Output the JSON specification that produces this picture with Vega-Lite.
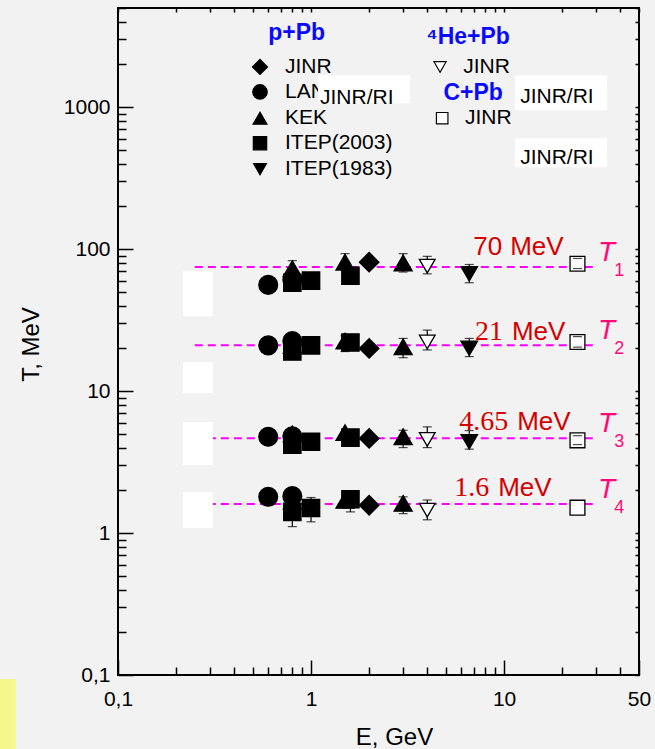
{
 "$schema": "https://vega.github.io/schema/vega-lite/v6.json",
 "width": 521,
 "height": 667,
 "autosize": {"type": "none"},
 "padding": {"left": 118, "top": 8, "right": 16, "bottom": 74},
 "background": "#f2f2f2",
 "config": {"view": {"stroke": "black", "strokeWidth": 2, "fill": null}, "font": "Liberation Sans"},
 "datasets": {
  "pts": [
   {"src":"LANL","E":0.6,"T":56,"lo":50,"hi":62},
   {"src":"KEK","E":0.8,"T":73,"lo":64,"hi":83},
   {"src":"LANL","E":0.8,"T":61},
   {"src":"ITEP2003","E":0.8,"T":58,"lo":53,"hi":63},
   {"src":"ITEP2003","E":1.0,"T":60,"lo":54,"hi":67},
   {"src":"KEK","E":1.5,"T":81,"lo":72,"hi":93},
   {"src":"ITEP2003","E":1.6,"T":65,"lo":60,"hi":70},
   {"src":"JINR p","E":2.0,"T":81},
   {"src":"KEK","E":3.0,"T":80,"lo":69,"hi":93},
   {"src":"JINR He","E":4.0,"T":76,"lo":67,"hi":89},
   {"src":"ITEP1983","E":6.6,"T":67,"lo":58,"hi":78},
   {"src":"JINR C","E":24,"T":79,"lo":73,"hi":86},
   {"src":"LANL","E":0.6,"T":21},
   {"src":"KEK","E":0.8,"T":21,"lo":19,"hi":23},
   {"src":"LANL","E":0.8,"T":22.5},
   {"src":"ITEP2003","E":0.8,"T":19,"lo":17.5,"hi":20.5},
   {"src":"ITEP2003","E":1.0,"T":21},
   {"src":"KEK","E":1.5,"T":22.5,"lo":19,"hi":24.5},
   {"src":"ITEP2003","E":1.6,"T":22},
   {"src":"JINR p","E":2.0,"T":20},
   {"src":"KEK","E":3.0,"T":20.5,"lo":17.2,"hi":23.5},
   {"src":"JINR He","E":4.0,"T":22.2,"lo":19.5,"hi":26.9},
   {"src":"ITEP1983","E":6.6,"T":20,"lo":17.5,"hi":23.5},
   {"src":"JINR C","E":24,"T":22.2,"lo":20.4,"hi":24.2},
   {"src":"LANL","E":0.6,"T":4.77},
   {"src":"KEK","E":0.8,"T":5.0,"lo":4.5,"hi":5.5},
   {"src":"LANL","E":0.8,"T":4.8},
   {"src":"ITEP2003","E":0.8,"T":4.2,"lo":3.9,"hi":4.6},
   {"src":"ITEP2003","E":1.0,"T":4.4},
   {"src":"KEK","E":1.5,"T":5.1},
   {"src":"ITEP2003","E":1.6,"T":4.7},
   {"src":"JINR p","E":2.0,"T":4.64},
   {"src":"KEK","E":3.0,"T":4.77,"lo":4.0,"hi":5.3},
   {"src":"JINR He","E":4.0,"T":4.57,"lo":4.0,"hi":5.6},
   {"src":"ITEP1983","E":6.6,"T":4.4,"lo":3.9,"hi":5.27},
   {"src":"JINR C","E":24,"T":4.5,"lo":4.2,"hi":4.85},
   {"src":"LANL","E":0.6,"T":1.8},
   {"src":"KEK","E":0.8,"T":1.68},
   {"src":"LANL","E":0.8,"T":1.82},
   {"src":"ITEP2003","E":0.8,"T":1.41,"lo":1.11,"hi":1.7},
   {"src":"ITEP2003","E":1.0,"T":1.5,"lo":1.2,"hi":1.78},
   {"src":"KEK","E":1.5,"T":1.7},
   {"src":"ITEP2003","E":1.6,"T":1.73,"lo":1.41,"hi":1.98},
   {"src":"JINR p","E":2.0,"T":1.57},
   {"src":"KEK","E":3.0,"T":1.62,"lo":1.37,"hi":1.8},
   {"src":"JINR He","E":4.0,"T":1.45,"lo":1.24,"hi":1.71},
   {"src":"JINR C","E":24,"T":1.51}
  ],
  "lines": [
   {"T":75,"E1":0.25,"E2":29},
   {"T":21,"E1":0.25,"E2":29},
   {"T":4.65,"E1":0.25,"E2":29},
   {"T":1.6,"E1":0.25,"E2":29}
  ],
  "boxes": [
   {"x1":0.217,"x2":0.3105,"y1":69.9,"y2":33.7},
   {"x1":0.217,"x2":0.3105,"y1":16.0,"y2":9.68},
   {"x1":0.217,"x2":0.3105,"y1":6.06,"y2":3.01},
   {"x1":0.217,"x2":0.3105,"y1":1.945,"y2":1.084},
   {"x1":1.087,"x2":3.26,"y1":1680,"y2":1067},
   {"x1":11.41,"x2":34.2,"y1":1680,"y2":952},
   {"x1":11.41,"x2":34.2,"y1":605,"y2":378}
  ],
  "yellow": [{"x1":0.02,"x2":0.0296,"y1":0.0937,"y2":0.02}],
  "leg": [
   {"src":"JINR p","label":"JINR","E":0.544,"T":1922,"Et":0.733},
   {"src":"LANL","label":"LANL","E":0.544,"T":1281,"Et":0.733},
   {"src":"KEK","label":"KEK","E":0.544,"T":836.5,"Et":0.733},
   {"src":"ITEP2003","label":"ITEP(2003)","E":0.544,"T":557.8,"Et":0.733},
   {"src":"ITEP1983","label":"ITEP(1983)","E":0.544,"T":365.9,"Et":0.733},
   {"src":"JINR He","label":"JINR","E":4.66,"T":1922,"Et":6.14},
   {"src":"JINR C","label":"JINR","E":4.78,"T":836.5,"Et":6.27}
  ],
  "heads": [
   {"h":"p+Pb","E":0.843,"T":3347},
   {"h":"⁴He+Pb","E":6.51,"T":3112},
   {"h":"C+Pb","E":6.92,"T":1255}
  ],
  "ri": [
   {"t":"JINR/RI","E":1.113,"T":1157},
   {"t":"JINR/RI","E":12.12,"T":1176},
   {"t":"JINR/RI","E":12.12,"T":437}
  ],
  "mev": [
   {"num":"70","E":10.75,"T":90.7},
   {"num":"21","E":10.98,"T":22.87},
   {"num":"4.65","E":11.69,"T":5.31},
   {"num":"1.6","E":9.32,"T":1.822}
  ],
  "tl": [
   {"s":"1","T":75},
   {"s":"2","T":21},
   {"s":"3","T":4.65},
   {"s":"4","T":1.6}
  ]
 },
 "layer": [
  {
   "data": {"name": "yellow"},
   "mark": {"type": "rect", "fill": "#f6f68e"},
   "encoding": {
    "x": {"field": "x1", "type": "quantitative", "scale": {"type": "log", "domain": [0.1, 50], "nice": false}, "axis": null},
    "x2": {"field": "x2"},
    "y": {"field": "y1", "type": "quantitative", "scale": {"type": "log", "domain": [0.1, 5000], "nice": false}, "axis": null},
    "y2": {"field": "y2"}
   }
  },
  {
   "data": {"name": "lines"},
   "mark": {"type": "rule", "color": "#ff00ff", "strokeWidth": 2, "strokeDash": [8, 5]},
   "encoding": {
    "x": {"field": "E1", "type": "quantitative", "scale": {"type": "log", "domain": [0.1, 50], "nice": false},
     "axis": {"orient": "bottom", "domain": false, "grid": false,
      "values": [0.1,0.2,0.3,0.4,0.5,0.6,0.7,0.8,0.9,1,2,3,4,5,6,7,8,9,10,20,30,40,50],
      "tickColor": "black", "tickWidth": 1.5,
      "tickSize": {"condition": {"test": "datum.value == 0.1 || datum.value == 1 || datum.value == 10 || datum.value == 50", "value": -15}, "value": -8},
      "labelExpr": "datum.value == 0.1 ? '0,1' : (datum.value == 1 || datum.value == 10 || datum.value == 50) ? format(datum.value, 'd') : ''",
      "labelFontSize": 21, "labelColor": "black", "labelPadding": 28, "labelFlush": false, "labelOverlap": false, "labelBound": false,
      "title": "E, GeV", "titleFontSize": 24, "titleFontWeight": "normal", "titleColor": "black",
      "titleX": 276, "titleY": 69, "titleBaseline": "alphabetic", "titleAlign": "center"}},
    "x2": {"field": "E2"},
    "y": {"field": "T", "type": "quantitative", "scale": {"type": "log", "domain": [0.1, 5000], "nice": false},
     "axis": {"orient": "left", "domain": false, "grid": false,
      "values": [0.1,0.2,0.3,0.4,0.5,0.6,0.7,0.8,0.9,1,2,3,4,5,6,7,8,9,10,20,30,40,50,60,70,80,90,100,200,300,400,500,600,700,800,900,1000,2000,3000,4000,5000],
      "tickColor": "black", "tickWidth": 1.5,
      "tickSize": {"condition": {"test": "datum.value == 0.1 || datum.value == 1 || datum.value == 10 || datum.value == 100 || datum.value == 1000", "value": -15}, "value": -8},
      "labelExpr": "datum.value == 0.1 ? '0,1' : (datum.value == 1 || datum.value == 10 || datum.value == 100 || datum.value == 1000) ? format(datum.value, 'd') : ''",
      "labelFontSize": 21, "labelColor": "black", "labelPadding": 23, "labelFlush": false, "labelOverlap": false, "labelBound": false,
      "title": "T, MeV", "titleFontSize": 24, "titleFontWeight": "normal", "titleColor": "black",
      "titleX": -80, "titleY": 336, "titleBaseline": "alphabetic", "titleAlign": "center", "titleAngle": -90}}
   }
  },
  {
   "data": {"name": "pts"},
   "transform": [{"filter": "isValid(datum.lo) && datum.src != 'JINR C'"}],
   "mark": {"type": "rule", "color": "black", "strokeWidth": 1.2},
   "encoding": {
    "x": {"field": "E", "type": "quantitative", "scale": {"type": "log", "domain": [0.1, 50], "nice": false}, "axis": null},
    "y": {"field": "lo", "type": "quantitative", "scale": {"type": "log", "domain": [0.1, 5000], "nice": false}, "axis": null},
    "y2": {"field": "hi"}
   }
  },
  {
   "data": {"name": "pts"},
   "transform": [{"filter": "isValid(datum.lo) && datum.src != 'JINR C'"}],
   "mark": {"type": "tick", "orient": "horizontal", "color": "black", "size": 9, "thickness": 1.2},
   "encoding": {
    "x": {"field": "E", "type": "quantitative", "scale": {"type": "log", "domain": [0.1, 50], "nice": false}, "axis": null},
    "y": {"field": "lo", "type": "quantitative", "scale": {"type": "log", "domain": [0.1, 5000], "nice": false}, "axis": null}
   }
  },
  {
   "data": {"name": "pts"},
   "transform": [{"filter": "isValid(datum.lo) && datum.src != 'JINR C'"}],
   "mark": {"type": "tick", "orient": "horizontal", "color": "black", "size": 9, "thickness": 1.2},
   "encoding": {
    "x": {"field": "E", "type": "quantitative", "scale": {"type": "log", "domain": [0.1, 50], "nice": false}, "axis": null},
    "y": {"field": "hi", "type": "quantitative", "scale": {"type": "log", "domain": [0.1, 5000], "nice": false}, "axis": null}
   }
  },
  {
   "data": {"name": "pts"},
   "mark": {"type": "point", "filled": true, "stroke": "black", "strokeWidth": 1.3, "opacity": 1},
   "encoding": {
    "x": {"field": "E", "type": "quantitative", "scale": {"type": "log", "domain": [0.1, 50], "nice": false},
     "axis": {"orient": "top", "domain": false, "grid": false, "labels": false, "title": null,
      "values": [0.1,0.2,0.3,0.4,0.5,0.6,0.7,0.8,0.9,1,2,3,4,5,6,7,8,9,10,20,30,40,50],
      "tickColor": "black", "tickWidth": 1.5, "tickSize": -4}},
    "y": {"field": "T", "type": "quantitative", "scale": {"type": "log", "domain": [0.1, 5000], "nice": false},
     "axis": {"orient": "right", "domain": false, "grid": false, "labels": false, "title": null,
      "values": [0.1,0.2,0.3,0.4,0.5,0.6,0.7,0.8,0.9,1,2,3,4,5,6,7,8,9,10,20,30,40,50,60,70,80,90,100,200,300,400,500,600,700,800,900,1000,2000,3000,4000,5000],
      "tickColor": "black", "tickWidth": 1.5, "tickSize": -4}},
    "shape": {"field": "src", "type": "nominal", "legend": null,
     "scale": {"domain": ["JINR p","LANL","KEK","ITEP2003","ITEP1983","JINR He","JINR C"], "range": ["diamond","circle","triangle-up","square","triangle-down","triangle-down","square"]}},
    "fill": {"field": "src", "type": "nominal", "legend": null,
     "scale": {"domain": ["JINR p","LANL","KEK","ITEP2003","ITEP1983","JINR He","JINR C"], "range": ["black","black","black","black","black","white","white"]}},
    "size": {"field": "src", "type": "nominal", "legend": null,
     "scale": {"domain": ["JINR p","LANL","KEK","ITEP2003","ITEP1983","JINR He","JINR C"], "range": [380,220,380,180,360,310,160]}}
   }
  },
  {
   "data": {"name": "pts"},
   "transform": [{"filter": "isValid(datum.lo) && datum.src == 'JINR C'"}],
   "mark": {"type": "tick", "orient": "horizontal", "color": "black", "size": 9, "thickness": 1.2},
   "encoding": {
    "x": {"field": "E", "type": "quantitative", "scale": {"type": "log", "domain": [0.1, 50], "nice": false}, "axis": null},
    "y": {"field": "lo", "type": "quantitative", "scale": {"type": "log", "domain": [0.1, 5000], "nice": false}, "axis": null}
   }
  },
  {
   "data": {"name": "pts"},
   "transform": [{"filter": "isValid(datum.lo) && datum.src == 'JINR C'"}],
   "mark": {"type": "tick", "orient": "horizontal", "color": "black", "size": 9, "thickness": 1.2},
   "encoding": {
    "x": {"field": "E", "type": "quantitative", "scale": {"type": "log", "domain": [0.1, 50], "nice": false}, "axis": null},
    "y": {"field": "hi", "type": "quantitative", "scale": {"type": "log", "domain": [0.1, 5000], "nice": false}, "axis": null}
   }
  },
  {
   "data": {"name": "leg"},
   "mark": {"type": "point", "filled": true, "stroke": "black", "strokeWidth": 1.2, "opacity": 1},
   "encoding": {
    "x": {"field": "E", "type": "quantitative", "scale": {"type": "log", "domain": [0.1, 50], "nice": false}, "axis": null},
    "y": {"field": "T", "type": "quantitative", "scale": {"type": "log", "domain": [0.1, 5000], "nice": false}, "axis": null},
    "shape": {"field": "src", "type": "nominal", "legend": null},
    "fill": {"field": "src", "type": "nominal", "legend": null},
    "size": {"field": "src", "type": "nominal", "legend": null,
     "scale": {"domain": ["JINR p","LANL","KEK","ITEP2003","ITEP1983","JINR He","JINR C"], "range": [225,132,256,121,256,169,121]}}
   }
  },
  {
   "data": {"name": "leg"},
   "mark": {"type": "text", "align": "left", "baseline": "middle", "fontSize": 21, "color": "black", "font": "Liberation Sans"},
   "encoding": {
    "x": {"field": "Et", "type": "quantitative", "scale": {"type": "log", "domain": [0.1, 50], "nice": false}, "axis": null},
    "y": {"field": "T", "type": "quantitative", "scale": {"type": "log", "domain": [0.1, 5000], "nice": false}, "axis": null},
    "text": {"field": "label"}
   }
  },
  {
   "data": {"name": "heads"},
   "mark": {"type": "text", "align": "center", "baseline": "middle", "fontSize": 23, "fontWeight": "bold", "color": "#0a0aff", "font": "Liberation Sans"},
   "encoding": {
    "x": {"field": "E", "type": "quantitative", "scale": {"type": "log", "domain": [0.1, 50], "nice": false}, "axis": null},
    "y": {"field": "T", "type": "quantitative", "scale": {"type": "log", "domain": [0.1, 5000], "nice": false}, "axis": null},
    "text": {"field": "h"}
   }
  },
  {
   "data": {"name": "boxes"},
   "mark": {"type": "rect", "fill": "white"},
   "encoding": {
    "x": {"field": "x1", "type": "quantitative", "scale": {"type": "log", "domain": [0.1, 50], "nice": false}, "axis": null},
    "x2": {"field": "x2"},
    "y": {"field": "y1", "type": "quantitative", "scale": {"type": "log", "domain": [0.1, 5000], "nice": false}, "axis": null},
    "y2": {"field": "y2"}
   }
  },
  {
   "data": {"name": "ri"},
   "mark": {"type": "text", "align": "left", "baseline": "middle", "fontSize": 21, "color": "black", "font": "Liberation Sans"},
   "encoding": {
    "x": {"field": "E", "type": "quantitative", "scale": {"type": "log", "domain": [0.1, 50], "nice": false}, "axis": null},
    "y": {"field": "T", "type": "quantitative", "scale": {"type": "log", "domain": [0.1, 5000], "nice": false}, "axis": null},
    "text": {"field": "t"}
   }
  },
  {
   "data": {"name": "mev"},
   "transform": [{"filter": "datum.num != '70'"}],
   "mark": {"type": "text", "align": "right", "baseline": "alphabetic", "fontSize": 28, "color": "#d40000", "font": "Liberation Serif", "dx": -9},
   "encoding": {
    "x": {"field": "E", "type": "quantitative", "scale": {"type": "log", "domain": [0.1, 50], "nice": false}, "axis": null},
    "y": {"field": "T", "type": "quantitative", "scale": {"type": "log", "domain": [0.1, 5000], "nice": false}, "axis": null},
    "text": {"field": "num"}
   }
  },
  {
   "data": {"name": "mev"},
   "transform": [{"filter": "datum.num == '70'"}],
   "mark": {"type": "text", "align": "right", "baseline": "alphabetic", "fontSize": 26, "color": "#d40000", "font": "Liberation Sans", "dx": -8},
   "encoding": {
    "x": {"field": "E", "type": "quantitative", "scale": {"type": "log", "domain": [0.1, 50], "nice": false}, "axis": null},
    "y": {"field": "T", "type": "quantitative", "scale": {"type": "log", "domain": [0.1, 5000], "nice": false}, "axis": null},
    "text": {"field": "num"}
   }
  },
  {
   "data": {"name": "mev"},
   "mark": {"type": "text", "align": "left", "baseline": "alphabetic", "fontSize": 26, "color": "#d40000", "font": "Liberation Sans", "text": "MeV"},
   "encoding": {
    "x": {"field": "E", "type": "quantitative", "scale": {"type": "log", "domain": [0.1, 50], "nice": false}, "axis": null},
    "y": {"field": "T", "type": "quantitative", "scale": {"type": "log", "domain": [0.1, 5000], "nice": false}, "axis": null}
   }
  },
  {
   "data": {"name": "tl"},
   "mark": {"type": "text", "align": "left", "baseline": "alphabetic", "fontSize": 28, "fontStyle": "italic", "color": "#ff0a78", "font": "Liberation Sans", "text": "T", "dy": -6},
   "encoding": {
    "x": {"datum": 30.7, "type": "quantitative", "scale": {"type": "log", "domain": [0.1, 50], "nice": false}, "axis": null},
    "y": {"field": "T", "type": "quantitative", "scale": {"type": "log", "domain": [0.1, 5000], "nice": false}, "axis": null}
   }
  },
  {
   "data": {"name": "tl"},
   "mark": {"type": "text", "align": "left", "baseline": "alphabetic", "fontSize": 18, "color": "#ff0a78", "font": "Liberation Sans", "dy": 9},
   "encoding": {
    "x": {"datum": 37.2, "type": "quantitative", "scale": {"type": "log", "domain": [0.1, 50], "nice": false}, "axis": null},
    "y": {"field": "T", "type": "quantitative", "scale": {"type": "log", "domain": [0.1, 5000], "nice": false}, "axis": null},
    "text": {"field": "s"}
   }
  }
 ],
 "resolve": {"scale": {"size": "independent"}, "axis": {"x": "independent", "y": "independent"}}
}
